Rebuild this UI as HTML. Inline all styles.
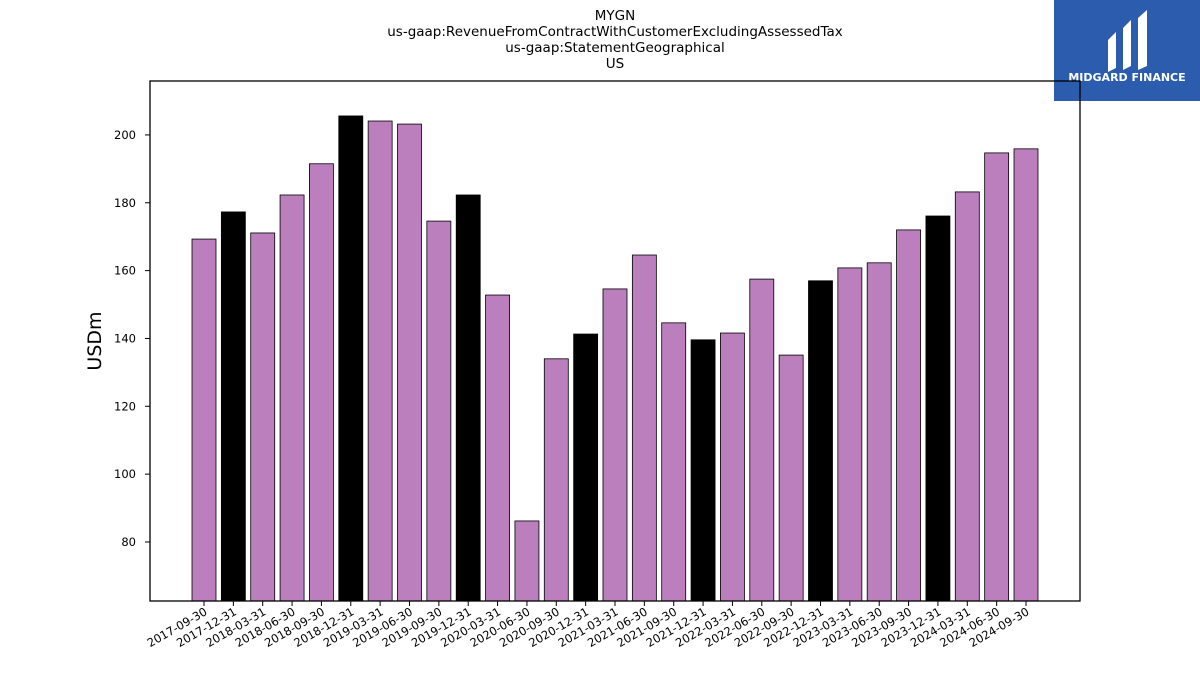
<!DOCTYPE html>
<html><head><meta charset="utf-8"><style>
body{margin:0;background:#fff;width:1200px;height:675px;overflow:hidden;font-family:"DejaVu Sans","Liberation Sans",sans-serif}
</style></head><body>
<svg id="chart" width="1200" height="675" xmlns="http://www.w3.org/2000/svg" font-family="DejaVu Sans, Liberation Sans, sans-serif">
<g font-size="13.5" text-anchor="middle" fill="#000">
<text x="615" y="20">MYGN</text>
<text x="615" y="36">us-gaap:RevenueFromContractWithCustomerExcludingAssessedTax</text>
<text x="615" y="52">us-gaap:StatementGeographical</text>
<text x="615" y="68">US</text>
</g>
<g>
<rect x="1054" y="0" width="146" height="101" fill="#2b5cad"/>
<path d="M1108 40 L1116 32 L1116 68 L1108 72 Z M1123 28 L1131 20 L1131 66 L1123 70 Z M1138 18 L1147 10 L1147 66 L1138 70 Z" fill="#fff"/>
<text x="1127" y="81" font-size="11" font-weight="bold" fill="#fff" text-anchor="middle">MIDGARD FINANCE</text>
</g>
<text x="101" y="341" font-size="19" text-anchor="middle" transform="rotate(-90 101 341)">USDm</text>
<g id="bars"></g><g id="yticks"></g><g id="xticks"></g>
<rect x="150" y="81" width="930" height="520" fill="none" stroke="#000" stroke-width="1.3"/>
</svg>
<script>
const categories=["2017-09-30","2017-12-31","2018-03-31","2018-06-30","2018-09-30","2018-12-31","2019-03-31","2019-06-30","2019-09-30","2019-12-31","2020-03-31","2020-06-30","2020-09-30","2020-12-31","2021-03-31","2021-06-30","2021-09-30","2021-12-31","2022-03-31","2022-06-30","2022-09-30","2022-12-31","2023-03-31","2023-06-30","2023-09-30","2023-12-31","2024-03-31","2024-06-30","2024-09-30"];
const values=[169.3,177.3,171.1,182.3,191.5,205.6,204.1,203.2,174.6,182.3,152.8,86.2,134.0,141.3,154.6,164.6,144.6,139.6,141.6,157.5,135.1,157.0,160.8,162.3,172.0,176.1,183.2,194.7,195.9];
const yTicks=[80,100,120,140,160,180,200];
const NS="http://www.w3.org/2000/svg";
const yMin=62.6,yMax=215.9,plotTop=81,plotBot=601;
function y(v){return plotBot-(v-yMin)/(yMax-yMin)*(plotBot-plotTop);}
const x0=204,step=(1026-204)/28;
function x(i){return x0+i*step;}
const bars=document.getElementById('bars'),xt=document.getElementById('xticks'),yt=document.getElementById('yticks');
values.forEach((v,i)=>{
 const r=document.createElementNS(NS,'rect');
 
 
 r.setAttribute('x',x(i)-12);r.setAttribute('width',24);
 r.setAttribute('y',y(v));r.setAttribute('height',plotBot-y(v));
 r.setAttribute('fill',categories[i].endsWith('12-31')?'#000':'#bb7fbd');
 r.setAttribute('stroke','#000');r.setAttribute('stroke-width','0.8');
 bars.appendChild(r);
 const t=document.createElementNS(NS,'line');
 
 
 t.setAttribute('x1',x(i));t.setAttribute('x2',x(i));t.setAttribute('y1',plotBot);t.setAttribute('y2',plotBot+5);t.setAttribute('stroke','#000');
 xt.appendChild(t);
 const l=document.createElementNS(NS,'text');
 
 
 l.setAttribute('font-size','11.5');l.setAttribute('text-anchor','end');
 l.setAttribute('transform','translate('+(x(i)+4)+','+(plotBot+13)+') rotate(-30)');
 l.textContent=categories[i];
 xt.appendChild(l);
});
yTicks.forEach(v=>{
 const t=document.createElementNS(NS,'line');
 
 
 t.setAttribute('x1',145);t.setAttribute('x2',150);t.setAttribute('y1',y(v));t.setAttribute('y2',y(v));t.setAttribute('stroke','#000');
 yt.appendChild(t);
 const l=document.createElementNS(NS,'text');
 
 
 l.setAttribute('font-size','11.5');l.setAttribute('text-anchor','end');
 l.setAttribute('x',136);l.setAttribute('y',y(v)+4);
 l.textContent=v;
 yt.appendChild(l);
});
</script>
</body></html>
